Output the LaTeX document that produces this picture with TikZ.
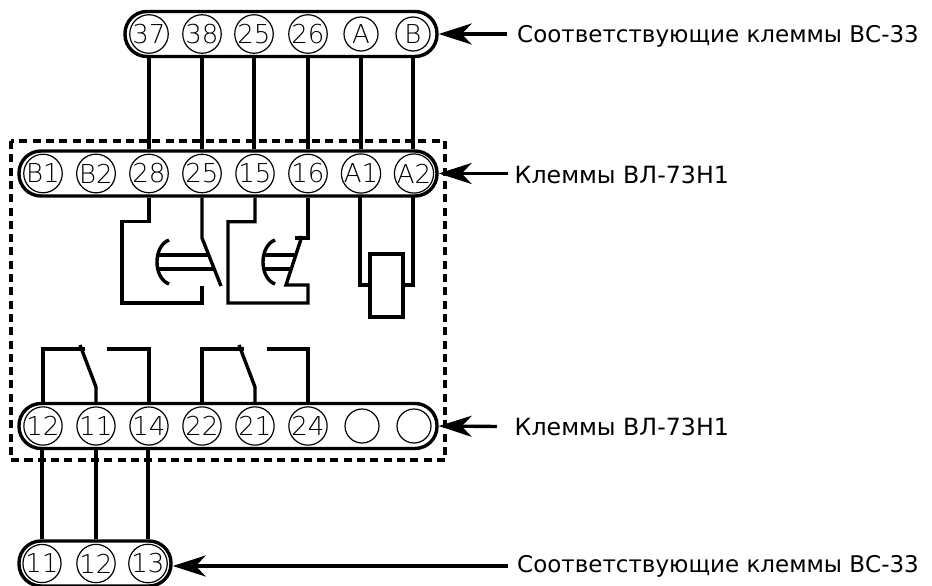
\documentclass[tikz,border=0pt]{standalone}
\usepackage{fontspec}
\setmainfont{DejaVu Sans}
\newfontfamily\thinfont{DejaVu Sans ExtraLight}
\usetikzlibrary{arrows.meta}
\tikzset{
  x=1pt,y=-1pt,
  wire/.style={line width=3.4pt,line join=miter},
  bar/.style={draw,line width=3.4pt,rounded corners=22pt,minimum height=45pt,inner sep=0pt},
  term/.style={draw,circle,line width=1.2pt,minimum size=34pt,inner sep=0pt,font=\thinfont\fontsize{26}{26}\selectfont},
  lab/.style={anchor=west,inner sep=0pt,font=\fontsize{23}{25}\selectfont},
  labwide/.style={anchor=west,inner sep=0pt,font=\fontsize{23.7}{25}\selectfont},
  pointer/.style={line width=3.4pt,-{Stealth[length=33pt,width=21pt,inset=10pt]}},
  frame/.style={line width=3.2pt,dash pattern=on 8pt off 5.3pt},
}
\begin{document}
\begin{tikzpicture}
\useasboundingbox (0,0) rectangle (932,586);
\node[bar,minimum width=312pt] (bara) at (281,34) {};
\node[bar,minimum width=418pt] (barb) at (228,173.5) {};
\node[bar,minimum width=418pt] (barc) at (228,426) {};
\node[bar,minimum width=152pt] (bard) at (95,563.5) {};
% frame
\draw[frame] (11,141) rectangle (445,460);
% terminals
\foreach \n/\x/\t in {a1/149/37,a2/202/38,a3/254/25,a4/308/26,a5/361/A,a6/413/B}
  \node[term] (\n) at (\x,34) {\t};
\foreach \n/\x/\t in {b1/43/B1,b2/96/B2,b3/149/28,b4/202/25,b5/255/15,b6/308/16,b7/361/A1,b8/414/A2}
  \node[term] (\n) at (\x,173.5) {\t};
\foreach \n/\x/\t in {c1/43/12,c2/96/11,c3/149/14,c4/202/22,c5/255/21,c6/308/24,c7/362/,c8/414/}
  \node[term] (\n) at (\x,426) {\t};
\foreach \n/\x/\t in {d1/42/11,d2/96/12,d3/148/13}
  \node[term] (\n) at (\x,563.5) {\t};
% wires between strips
\foreach \p/\q in {a1/b3,a2/b4,a3/b5,a4/b6,a5/b7,a6/b8}
  \draw[wire] (\p |- bara.south) -- (\p |- barb.north);
\foreach \p/\q in {c1/d1,c2/d2,c3/d3}
  \draw[wire] (\q |- barc.south) -- (\q |- bard.north);
% contact 28-25
\draw[wire] (b3 |- barb.south) -- ++(0,24) -| (122,303) -| (202,286);
\draw[wire] (b4 |- barb.south) -- (202,238) -- (221,286);
\draw[wire] (169,240) .. controls (153,246) and (153,278) .. (169,284);
\draw[wire] (158,255) -- (208,255);
\draw[wire] (158,269) -- (213,269);
% contact 15-16
\draw[wire] (b5 |- barb.south) -- ++(0,24) -| (228,303) -| (308,285) -- (286,285) -- (302,236);
\draw[wire] (b6 |- barb.south) -- (308,238) -- (295,238);
\draw[wire] (275,240) .. controls (259,246) and (259,278) .. (275,284);
\draw[wire] (264,255) -- (295,255);
\draw[wire] (264,269) -- (291,269);
% coil
\draw[wire] (370,254) rectangle (403,317);
\draw[wire] (360,197) |- (370,285);
\draw[wire] (413,197) |- (403,285);
% lower contacts
\draw[wire] (c1 |- barc.north) |- (85,349);
\draw[wire] (80,345) -- (96,387) -- (c2 |- barc.north);
\draw[wire] (107,349) -| (c3 |- barc.north);
\draw[wire] (c4 |- barc.north) |- (244,349);
\draw[wire] (239,345) -- (255,387) -- (c5 |- barc.north);
\draw[wire] (267,349) -| (c6 |- barc.north);
% labels
\node[lab] (la) at (517,36) {Соответствующие клеммы ВС-33};
\node[labwide] (lb) at (514.5,174.5) {Клеммы ВЛ-73Н1};
\node[labwide] (lc) at (514.5,427) {Клеммы ВЛ-73Н1};
\node[lab] (ld) at (517,566) {Соответствующие клеммы ВС-33};
\coordinate (pa) at (507,34);
\coordinate (pb) at (508,173.5);
\coordinate (pc) at (497,426.5);
\coordinate (pd) at (508,566);
\draw[pointer] (pa) -- (bara.east);
\draw[pointer] (pb) -- (barb.east);
\draw[pointer] (pc) -- (barc.east);
\draw[pointer] (pd) -- (bard.east |- pd);
\end{tikzpicture}
\end{document}
